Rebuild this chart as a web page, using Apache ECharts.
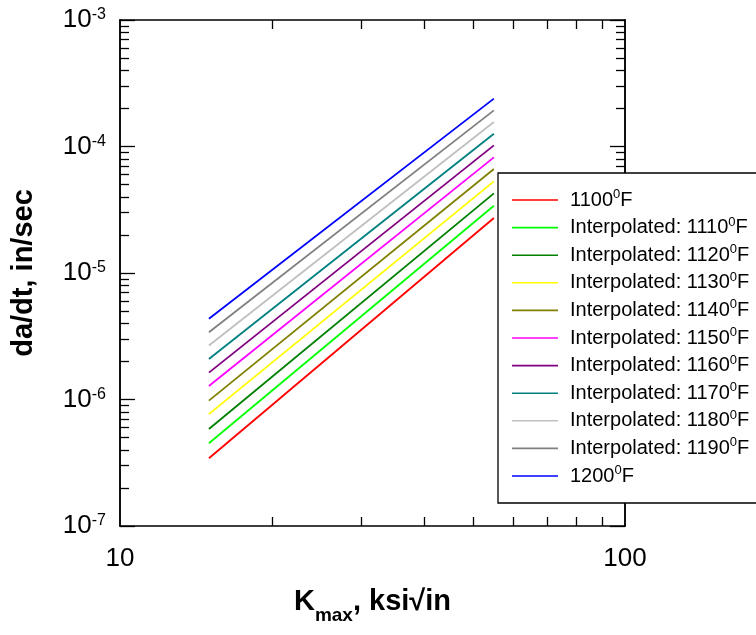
<!DOCTYPE html>
<html>
<head>
<meta charset="utf-8">
<script src="https://cdn.jsdelivr.net/npm/echarts@6/dist/echarts.min.js"></script>
<style>
  html, body { margin: 0; padding: 0; background: #fff; }
  #chart { width: 756px; height: 635px; }
</style>
</head>
<body>
<div id="chart"></div>
<script>
// ---- data ----
const kmax = [15, 55];
const rate1100 = [3.43e-7, 2.72e-5];
const rate1110 = [4.51e-7, 3.40e-5];
const rate1120 = [5.85e-7, 4.26e-5];
const rate1130 = [7.66e-7, 5.30e-5];
const rate1140 = [9.80e-7, 6.64e-5];
const rate1150 = [1.28e-6, 8.21e-5];
const rate1160 = [1.63e-6, 1.02e-4];
const rate1170 = [2.09e-6, 1.26e-4];
const rate1180 = [2.67e-6, 1.56e-4];
const rate1190 = [3.40e-6, 1.93e-4];
const rate1200 = [4.35e-6, 2.39e-4];

const seriesNames = [
  '1100°F', 'Interpolated: 1110°F', 'Interpolated: 1120°F', 'Interpolated: 1130°F',
  'Interpolated: 1140°F', 'Interpolated: 1150°F', 'Interpolated: 1160°F',
  'Interpolated: 1170°F', 'Interpolated: 1180°F', 'Interpolated: 1190°F', '1200°F'
];
const seriesRates = [rate1100, rate1110, rate1120, rate1130, rate1140, rate1150,
  rate1160, rate1170, rate1180, rate1190, rate1200];

// tick values
const xLabelValues = [10, 100];
const xMinorTicks = [20, 30, 40, 50, 60, 70, 80, 90];
const yMajorTicks = [1e-7, 1e-6, 1e-5, 1e-4, 1e-3];
const yDecades = [1e-7, 1e-6, 1e-5, 1e-4];
const yMultipliers = [2, 3, 4, 5, 6, 7, 8, 9];

// ---- styles ----
const colors = ['#ff0000', '#00ff00', '#008000', '#ffff00', '#808000', '#ff00ff',
  '#800080', '#008080', '#c0c0c0', '#808080', '#0000ff'];
const FONT = 'Liberation Sans, Arial, Helvetica, sans-serif';

const yMinorTicks = [];
yDecades.forEach(d => yMultipliers.forEach(m => yMinorTicks.push(parseFloat((d * m).toPrecision(3)))));

function expOf(v) {
  if (v > 0 && v < 1) return Math.round(Math.log10(v));
  return Math.round(v);
}

const lineStyleAxis = { color: '#000', width: 1.5 };
const tickStyle = { color: '#000', width: 1.3 };

function xAxisDef(position, showLabel) {
  return {
    type: 'log', logBase: 10, min: 10, max: 100, position: position,
    axisLine: { show: true, lineStyle: lineStyleAxis },
    axisTick: { show: true, inside: true, length: 9, lineStyle: tickStyle, customValues: xMinorTicks },
    minorTick: { show: false },
    splitLine: { show: false },
    axisLabel: showLabel ? {
      show: true, customValues: xLabelValues, fontFamily: FONT, fontSize: 26, color: '#000', margin: 20,
      formatter: v => (v > 2 ? String(Math.round(v)) : String(Math.round(Math.pow(10, v))))
    } : { show: false },
    name: showLabel ? '{k|K}{sub|max}{k|, ksi√in}' : '',
    nameLocation: 'middle',
    nameGap: 59,
    nameTextStyle: {
      rich: {
        k: { fontFamily: FONT, fontSize: 29, fontWeight: 'bold', color: '#000', lineHeight: 34 },
        sub: { fontFamily: FONT, fontSize: 19, fontWeight: 'bold', color: '#000', lineHeight: 20, verticalAlign: 'bottom', padding: [0, 0, -6, 0] }
      }
    }
  };
}

function yAxisDef(position, major, showLabel) {
  return {
    type: 'log', logBase: 10, min: 1e-7, max: 1e-3, position: position,
    axisLine: { show: true, lineStyle: lineStyleAxis },
    axisTick: { show: true, inside: true, length: major ? 15 : 9, lineStyle: tickStyle,
      customValues: major ? yMajorTicks : yMinorTicks },
    minorTick: { show: false },
    splitLine: { show: false },
    axisLabel: showLabel ? {
      show: true, customValues: yMajorTicks, margin: 14,
      formatter: v => '{b|10}{s|' + expOf(v) + '}',
      rich: {
        b: { fontFamily: FONT, fontSize: 26, color: '#000', lineHeight: 30 },
        s: { fontFamily: FONT, fontSize: 16, color: '#000', lineHeight: 16, verticalAlign: 'top', padding: [2, 0, 0, 0] }
      }
    } : { show: false },
    name: showLabel ? 'da/dt, in/sec' : '',
    nameLocation: 'middle',
    nameGap: 82,
    nameRotate: 90,
    nameTextStyle: { fontFamily: FONT, fontSize: 29, fontWeight: 'bold', color: '#000' }
  };
}

const series = seriesNames.map((name, i) => ({
  name: name,
  type: 'line',
  xAxisIndex: 0,
  yAxisIndex: 0,
  symbol: 'none',
  showSymbol: false,
  animation: false,
  lineStyle: { color: colors[i], width: 1.8 },
  itemStyle: { color: colors[i] },
  data: kmax.map((k, j) => [k, seriesRates[i][j]])
}));

const chart = echarts.init(document.getElementById('chart'), null, { renderer: 'canvas' });
chart.setOption({
  animation: false,
  backgroundColor: '#fff',
  grid: { left: 120, top: 20, width: 505, height: 506, containLabel: false },
  xAxis: [xAxisDef('bottom', true), xAxisDef('top', false)],
  yAxis: [yAxisDef('left', true, true), yAxisDef('left', false, false),
          yAxisDef('right', true, false), yAxisDef('right', false, false)],
  legend: {
    orient: 'vertical',
    left: 498, top: 173,
    padding: [15, 40, 17, 14],
    icon: 'rect',
    itemWidth: 46, itemHeight: 1.6, itemGap: 5.6,
    borderColor: '#000', borderWidth: 1.3, borderRadius: 0,
    backgroundColor: '#fff',
    selectedMode: false,
    data: seriesNames,
    formatter: name => {
      const base = name.replace('°F', '');
      return '{t|' + base + '}{s|0}{t|F}';
    },
    textStyle: {
      fontFamily: FONT, fontSize: 20, color: '#000', padding: [0, 0, 0, 7],
      rich: {
        t: { fontFamily: FONT, fontSize: 20, color: '#000', lineHeight: 24 },
        s: { fontFamily: FONT, fontSize: 13, color: '#000', lineHeight: 12, verticalAlign: 'top' }
      }
    }
  },
  series: series
});
</script>
</body>
</html>
